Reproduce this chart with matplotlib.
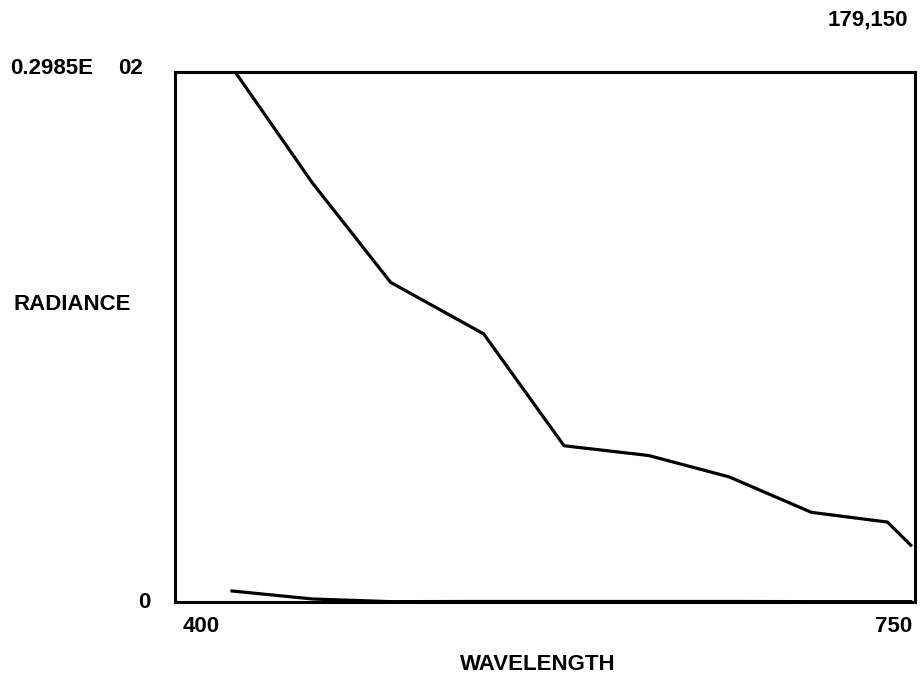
import matplotlib
matplotlib.use('Agg')
import matplotlib.pyplot as plt

# wavelength samples (nm)
wavelength = [427, 465, 502, 546, 584, 624, 662, 701, 737, 748]
radiance_upper = [30.1, 23.6, 18.0, 15.1, 8.8, 8.25, 7.05, 5.05, 4.5, 3.2]
radiance_lower = [0.62, 0.17, 0.02, 0.03, 0.03, 0.03, 0.03, 0.02, 0.02, 0.02]

ymax = 29.85
xmin, xmax = 400, 750

W, H = 921, 684
fig = plt.figure(figsize=(W / 100, H / 100), dpi=100)
ax = fig.add_axes([175 / W, 1 - 602 / H, 740 / W, 530 / H])

ax.plot(wavelength, radiance_upper, color='black', lw=2.3)
ax.plot(wavelength, radiance_lower, color='black', lw=2.3)
ax.set_xlim(xmin, xmax)
ax.set_ylim(0, ymax)
ax.set_xticks([])
ax.set_yticks([])
for s in ax.spines.values():
    s.set_linewidth(2.2)

font = dict(family=['Liberation Sans', 'DejaVu Sans'], weight='bold', color='black')

def put(x, y, s, ha='left', size=16):
    fig.text(x / W, 1 - y / H, s, ha=ha, va='center', fontsize=size, **font)

put(10, 69, '0.2985E')
put(118, 69, '02')
put(138, 603, '0')
put(183, 627, '400')
put(912, 627, '750', ha='right')
put(13, 304, 'RADIANCE')
put(538, 664, 'WAVELENGTH', ha='center')
put(908, 20, '179,150', ha='right')

fig.savefig('out.png', dpi=100, facecolor='white')
